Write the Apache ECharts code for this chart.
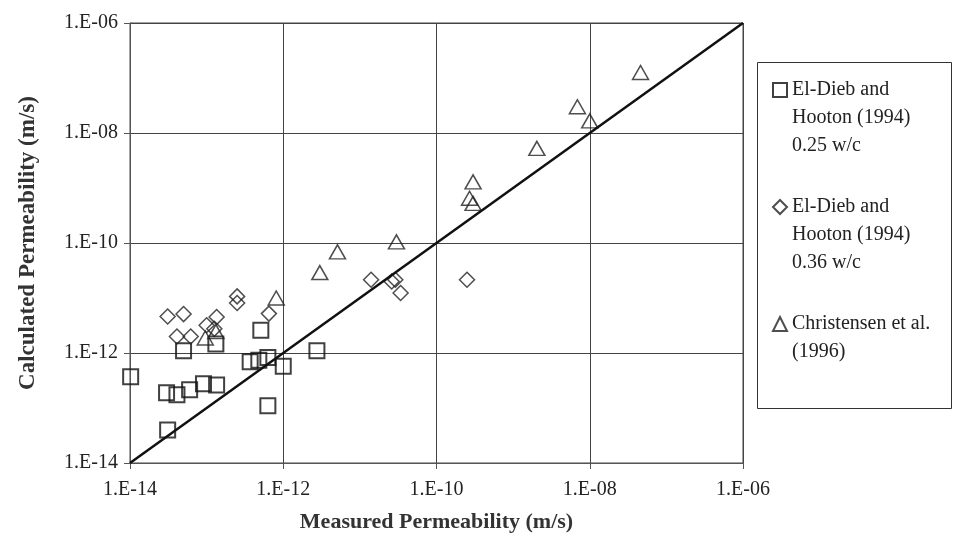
<!DOCTYPE html>
<html><head><meta charset="utf-8">
<script src="https://cdn.jsdelivr.net/npm/echarts@6/dist/echarts.min.js"></script>
<style>html,body{margin:0;padding:0;background:#fff}#c{width:959px;height:539px}</style>
</head><body><div id="c"></div>
<script>
// Tick labels (log decades shown every two decades)
const tickExponents = [-14, -12, -10, -8, -6];
const tickLabels = ['1.E-14', '1.E-12', '1.E-10', '1.E-08', '1.E-06'];

// El-Dieb and Hooton (1994) 0.25 w/c  (squares)
const sq25X = [1.02e-14, 3.1e-14, 3.0e-14, 4.1e-14, 6.0e-14, 9.1e-14, 1.35e-13, 5.0e-14, 1.32e-13, 5.1e-13, 3.7e-13, 4.8e-13, 6.3e-13, 1.0e-12, 6.3e-13, 2.75e-12];
const sq25Y = [3.7e-13, 4.0e-14, 1.9e-13, 1.74e-13, 2.14e-13, 2.75e-13, 2.63e-13, 1.1e-12, 1.45e-12, 2.6e-12, 6.9e-13, 7.4e-13, 8.3e-13, 5.75e-13, 1.1e-13, 1.1e-12];

// El-Dieb and Hooton (1994) 0.36 w/c  (diamonds)
const dm36X = [3.1e-14, 5.0e-14, 4.1e-14, 6.2e-14, 1.0e-13, 1.35e-13, 1.26e-13, 2.5e-13, 2.5e-13, 6.5e-13, 1.4e-11, 2.6e-11, 2.9e-11, 3.4e-11, 2.5e-10];
const dm36Y = [4.6e-12, 5.1e-12, 2.0e-12, 2.0e-12, 3.2e-12, 4.5e-12, 2.75e-12, 1.07e-11, 8.1e-12, 5.2e-12, 2.15e-11, 2.0e-11, 2.15e-11, 1.23e-11, 2.15e-11];

// Christensen et al. (1996)  (triangles)
const chX = [9.6e-14, 1.32e-13, 8.1e-13, 3.0e-12, 5.1e-12, 3.0e-11, 3.0e-10, 2.7e-10, 3.0e-10, 2.04e-9, 6.9e-9, 1.0e-8, 4.6e-8];
const chY = [1.87e-12, 2.45e-12, 1.0e-11, 2.9e-11, 6.9e-11, 1.05e-10, 1.29e-9, 6.5e-10, 5.25e-10, 5.25e-9, 3.0e-8, 1.66e-8, 1.26e-7];

// Line of equality
const lineX = [1e-14, 1e-6];
const lineY = [1e-14, 1e-6];

const names = ['El-Dieb and\nHooton (1994)\n0.25 w/c', 'El-Dieb and\nHooton (1994)\n0.36 w/c', 'Christensen et al.\n(1996)'];

const zip = (a, b) => a.map((v, i) => [v, b[i]]);
const fmt = v => { const e = Math.round(Math.log10(v)); const i = tickExponents.indexOf(e); return i >= 0 ? tickLabels[i] : ''; };
const serif = 'Liberation Serif';

const axisCommon = {
  type: 'log', logBase: 10, min: 1e-14, max: 1e-6, interval: 2, splitNumber: 4,
  axisLine: { show: true, lineStyle: { color: '#555', width: 1 } },
  axisTick: { show: true, inside: false, length: 6, lineStyle: { color: '#555' } },
  minorTick: { show: false },
  splitLine: { show: true, lineStyle: { color: '#444', width: 1 } },
  axisLabel: { formatter: fmt, fontFamily: serif, fontSize: 20, color: '#222' },
  nameLocation: 'middle'
};

// leading blank lines put the icon level with the first text line
const lead = name => { const n = name.split('\n').length; return '\n'.repeat(n - 1) + name; };
const legendText = { fontFamily: serif, fontSize: 20, color: '#222', lineHeight: 28 };
const legendBase = { left: 772, orient: 'vertical', padding: 0, itemWidth: 14, itemHeight: 14, itemGap: 0, selectedMode: false, textStyle: legendText, formatter: lead };

const option = {
  animation: false,
  grid: { left: 130, right: 216, top: 23, bottom: 76, show: true, borderColor: '#444', borderWidth: 1 },
  xAxis: Object.assign({}, axisCommon, {
    name: 'Measured Permeability (m/s)', nameGap: 48,
    nameTextStyle: { fontFamily: serif, fontWeight: 'bold', fontSize: 22, color: '#333' },
    axisLabel: Object.assign({}, axisCommon.axisLabel, { margin: 17 })
  }),
  yAxis: Object.assign({}, axisCommon, {
    name: 'Calculated Permeability (m/s)', nameGap: 90,
    nameTextStyle: { fontFamily: serif, fontWeight: 'bold', fontSize: 23, color: '#333' },
    axisLabel: Object.assign({}, axisCommon.axisLabel, { margin: 12 })
  }),
  legend: [
    Object.assign({}, legendBase, { data: [names[0]], top: 20 }),
    Object.assign({}, legendBase, { data: [names[1]], top: 137 }),
    Object.assign({}, legendBase, { data: [names[2]], top: 282 })
  ],
  graphic: [{
    type: 'rect', shape: { x: 757.5, y: 62.5, width: 194, height: 346 },
    style: { fill: 'none', stroke: '#333', lineWidth: 1 }, silent: true
  }],
  series: [
    { name: names[0], type: 'scatter', data: zip(sq25X, sq25Y), symbol: 'rect', symbolSize: 15,
      itemStyle: { color: 'transparent', borderColor: '#111', borderWidth: 2 }, z: 3 },
    { name: names[1], type: 'scatter', data: zip(dm36X, dm36Y), symbol: 'diamond', symbolSize: 15,
      itemStyle: { color: 'transparent', borderColor: '#222', borderWidth: 1.5 }, z: 3 },
    { name: names[2], type: 'scatter', data: zip(chX, chY), symbol: 'triangle', symbolSize: [16, 14],
      itemStyle: { color: 'transparent', borderColor: '#222', borderWidth: 1.5 }, z: 3 },
    { name: 'equality', type: 'line', data: zip(lineX, lineY), showSymbol: false, symbol: 'none',
      lineStyle: { color: '#111', width: 2.5 }, z: 4, silent: true }
  ]
};

const chart = echarts.init(document.getElementById('c'), null, { renderer: 'canvas' });
chart.setOption(option);
</script>
</body></html>
